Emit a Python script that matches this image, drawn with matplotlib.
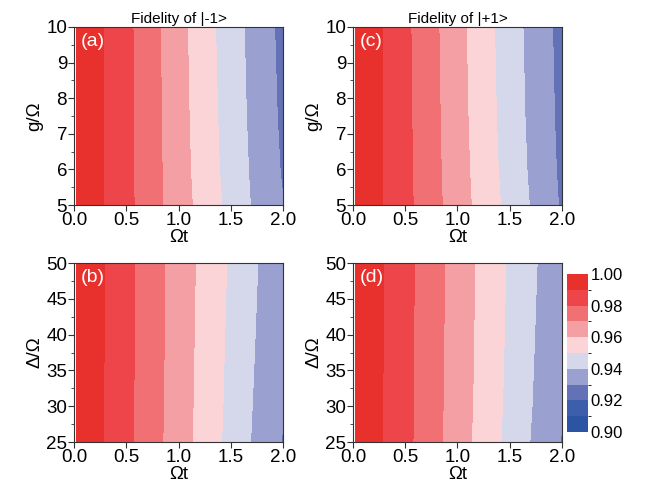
import numpy as np
import matplotlib
matplotlib.use("Agg")
import matplotlib.pyplot as plt
from matplotlib.colors import ListedColormap, BoundaryNorm
from matplotlib.ticker import MultipleLocator

plt.rcParams['font.family'] = ['Liberation Sans', 'DejaVu Sans']

# Omega*t sample points (shared by all panels)
omega_t = [0.02, 0.25, 0.5, 0.75, 1.0, 1.25, 1.5, 1.75, 2.0]

# (a) fidelity of |-1> vs g/Omega
g_vals = [5, 6, 7.5, 10]
fid_a = [
    [0.9993, 0.9911, 0.9827, 0.9737, 0.9646, 0.9559, 0.9469, 0.9377, 0.9302],
    [0.9993, 0.9911, 0.9826, 0.9735, 0.9641, 0.9552, 0.9461, 0.9371, 0.9291],
    [0.9993, 0.9911, 0.9825, 0.9733, 0.9637, 0.9546, 0.9454, 0.9364, 0.9282],
    [0.9993, 0.9911, 0.9824, 0.9731, 0.9632, 0.9539, 0.9446, 0.9357, 0.9273],
]
# (c) fidelity of |+1> vs g/Omega
fid_c = [
    [0.9993, 0.9911, 0.9827, 0.9738, 0.9647, 0.9558, 0.9469, 0.9377, 0.9288],
    [0.9993, 0.9911, 0.9825, 0.9735, 0.9642, 0.9551, 0.9460, 0.9369, 0.9281],
    [0.9993, 0.9911, 0.9823, 0.9732, 0.9637, 0.9545, 0.9453, 0.9362, 0.9275],
    [0.9993, 0.9911, 0.9820, 0.9728, 0.9631, 0.9539, 0.9446, 0.9355, 0.9269],
]

# (b), (d) fidelity vs Delta/Omega
delta_vals = [25, 30, 37.5, 45, 50]
fid_b = [
    [0.9993, 0.9911, 0.9824, 0.9736, 0.9646, 0.9558, 0.9469, 0.9378, 0.9295],
    [0.9993, 0.9912, 0.9825, 0.9738, 0.9649, 0.9561, 0.9474, 0.9384, 0.9304],
    [0.9993, 0.9913, 0.9827, 0.9739, 0.9652, 0.9564, 0.9479, 0.9392, 0.9311],
    [0.9993, 0.9913, 0.9827, 0.9740, 0.9653, 0.9568, 0.9484, 0.9399, 0.9317],
    [0.9993, 0.9914, 0.9828, 0.9741, 0.9655, 0.9570, 0.9487, 0.9403, 0.9320],
]
fid_d = [
    [0.9993, 0.9911, 0.9826, 0.9738, 0.9647, 0.9558, 0.9470, 0.9379, 0.9295],
    [0.9993, 0.9912, 0.9827, 0.9740, 0.9651, 0.9563, 0.9476, 0.9387, 0.9306],
    [0.9993, 0.9913, 0.9828, 0.9741, 0.9654, 0.9566, 0.9481, 0.9394, 0.9312],
    [0.9993, 0.9914, 0.9829, 0.9743, 0.9656, 0.9569, 0.9485, 0.9400, 0.9318],
    [0.9993, 0.9914, 0.9830, 0.9744, 0.9657, 0.9571, 0.9488, 0.9404, 0.9321],
]

levels = [0.90, 0.91, 0.92, 0.93, 0.94, 0.95, 0.96, 0.97, 0.98, 0.99, 1.00]
band_colors = ['#2b55a4', '#3c5eab', '#6371b6', '#9aa0d0', '#d5d7ea',
               '#fad4d6', '#f49fa3', '#f07074', '#ee454a', '#e8302c']
cmap = ListedColormap(band_colors)
norm = BoundaryNorm(levels, cmap.N)

W, H = 652, 490
fig = plt.figure(figsize=(W / 100, H / 100), dpi=100)

def px_axes(left, top, right, bottom):
    return fig.add_axes([left / W, 1 - bottom / H, (right - left) / W, (bottom - top) / H])

panels = [
    (px_axes(74, 27, 283, 205), g_vals, fid_a, '(a)', 'g/Ω', (5, 10), 1, 0.5, 'Fidelity of |-1>'),
    (px_axes(353, 27, 562, 205), g_vals, fid_c, '(c)', 'g/Ω', (5, 10), 1, 0.5, 'Fidelity of |+1>'),
    (px_axes(74, 263, 283, 442), delta_vals, fid_b, '(b)', 'Δ/Ω', (25, 50), 5, 2.5, None),
    (px_axes(353, 263, 562, 442), delta_vals, fid_d, '(d)', 'Δ/Ω', (25, 50), 5, 2.5, None),
]

for ax, yv, z, tag, ylab, ylim, ymaj, ymin, title in panels:
    cs = ax.contourf(omega_t, yv, np.array(z), levels=levels, cmap=cmap, norm=norm)
    ax.set_xlim(0, 2.0)
    ax.set_ylim(*ylim)
    ax.xaxis.set_major_locator(MultipleLocator(0.5))
    ax.xaxis.set_major_formatter(plt.FormatStrFormatter('%.1f'))
    ax.yaxis.set_major_locator(MultipleLocator(ymaj))
    ax.yaxis.set_minor_locator(MultipleLocator(ymin))
    ax.tick_params(which='major', direction='out', length=4, width=0.8, pad=1,
                   labelsize=13.5, color='#333333')
    ax.tick_params(which='minor', direction='out', length=2, width=0.6, color='#333333')
    for s in ax.spines.values():
        s.set_linewidth(0.8)
        s.set_color('#333333')
    ax.set_xlabel('Ωt', fontsize=13.5, labelpad=0)
    ax.set_ylabel(ylab, fontsize=13.5, labelpad=2)
    ax.text(0.03, 0.965, tag, transform=ax.transAxes, color='white',
            fontsize=14, ha='left', va='top')
    if title:
        ax.set_title(title, fontsize=11, pad=3)

cax = px_axes(567, 274, 588, 432)
cb = fig.colorbar(cs, cax=cax, ticks=[0.90, 0.92, 0.94, 0.96, 0.98, 1.00])
cb.ax.yaxis.set_major_formatter(plt.FormatStrFormatter('%.2f'))
cb.ax.tick_params(length=0, labelsize=12, pad=2)
cb.outline.set_visible(False)

fig.savefig('out.png', dpi=100)
